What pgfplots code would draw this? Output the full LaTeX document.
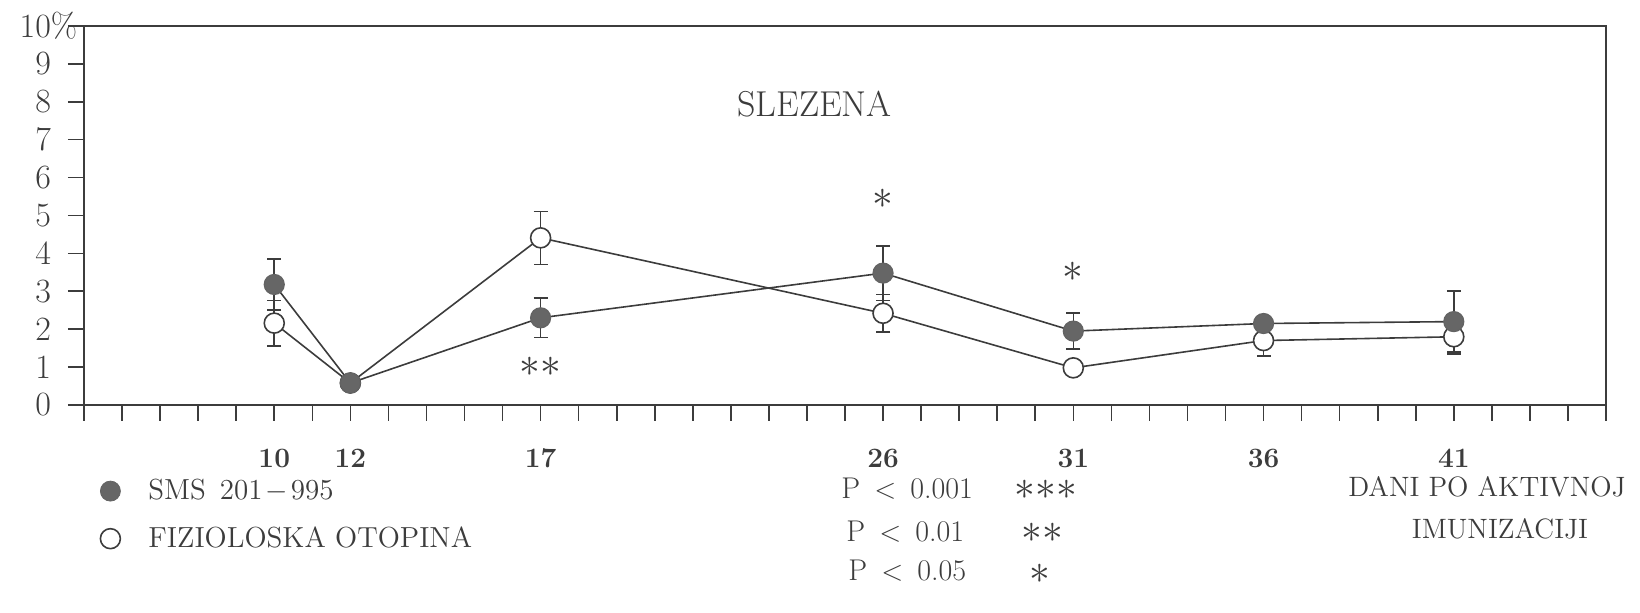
\documentclass[border=0pt]{standalone}
\usepackage{pgfplots}
\pgfplotsset{compat=1.18}
\usepackage{pgfplotstable}
\usepackage{fontspec}
\definecolor{ink}{HTML}{3C3C3C}
\definecolor{dotfill}{HTML}{666666}

\pgfplotstableread{
x y e
10 3.18 0.67
12 0.58 0
17 2.30 0.52
26 3.48 0.72
31 1.95 0.47
36 2.15 0.15
41 2.20 0.80
}\sms

\pgfplotstableread{
x y e
10 2.16 0.60
12 0.58 0
17 4.41 0.70
26 2.42 0.50
31 0.98 0.10
36 1.70 0.40
41 1.80 0.46
}\fiz

\newcommand{\st}{{\ast}}
\begin{document}
\begin{tikzpicture}
\useasboundingbox (-42pt,-104pt) rectangle (778pt,202.5pt);
\begin{axis}[
  at={(0pt,0pt)}, anchor=south west,
  scale only axis, width=761pt, height=189.5pt,
  xmin=5, xmax=45, ymin=0, ymax=10,
  axis line style={ink, line width=0.8pt},
  xtick={5,...,45}, xticklabels={},
  extra x ticks={10,12,17,26,31,36,41},
  extra x tick labels={10,12,17,26,31,36,41},
  extra x tick style={xticklabel style={font=\fontsize{14}{16}\selectfont\bfseries, text=ink, anchor=center, inner sep=0pt, yshift=-18.5pt}},
  ytick={0,...,10},
  yticklabels={0,1,2,3,4,5,6,7,8,9,10\rlap{\%}},
  yticklabel style={font=\fontsize{17}{19}\selectfont, text=ink, anchor=east, xshift=-5pt},
  tick align=outside, major tick length=8pt,
  xtick pos=bottom, ytick pos=left,
  tick style={ink, line width=0.8pt},
  clip=false,
  legend style={at={(axis description cs:0,0)}, anchor=north west, draw=none, fill=none,
    font=\fontsize{14.5}{16}\selectfont, xshift=5pt, yshift=-34pt, row sep=10pt,
    nodes={inner sep=1pt},
    text=ink, /tikz/every odd column/.append style={column sep=13pt}},
  legend cell align=left,
]
\addplot[forget plot, ink, line width=0.8pt, mark=*, mark size=5pt,
  mark options={fill=white, draw=ink, line width=0.8pt},
  error bars/.cd, y dir=both, y explicit,
  error bar style={ink, line width=0.8pt},
  error mark options={rotate=90, ink, mark size=3.5pt, line width=0.8pt},
  ] table[x=x, y=y, y error=e] {\fiz};
\addplot[forget plot, ink, line width=0.8pt, mark=*, mark size=5pt,
  mark options={fill=dotfill, draw=ink!80, line width=0.6pt},
  error bars/.cd, y dir=both, y explicit,
  error bar style={ink, line width=0.8pt},
  error mark options={rotate=90, ink, mark size=3.5pt, line width=0.8pt},
  ] table[x=x, y=y, y error=e] {\sms};
\addlegendimage{only marks, mark=*, mark size=5pt, mark options={fill=dotfill, draw=ink!80}}
\addlegendentry{SMS\hspace{7pt}201\hspace{1.5pt}$-$\hspace{1.5pt}995}
\addlegendimage{only marks, mark=o, mark size=5pt, mark options={draw=ink, line width=0.8pt}}
\addlegendentry{FIZIOLOSKA OTOPINA}

\node[font=\fontsize{18}{20}\selectfont, text=ink] at (axis cs:24.2,7.94) {SLEZENA};
\node[font=\fontsize{22}{22}\selectfont, text=ink] at (axis cs:17,1.0) {$\st\st$};
\node[font=\fontsize{22}{22}\selectfont, text=ink] at (axis cs:26,5.43) {$\st$};
\node[font=\fontsize{22}{22}\selectfont, text=ink] at (axis cs:31,3.5) {$\st$};
\end{axis}

\begin{scope}[every node/.style={text=ink, font=\fontsize{15}{17}\selectfont, inner sep=0pt}]
\node[anchor=west] at (378.5pt,-42pt) {P\, $<$\, 0.001};
\node[anchor=west] at (381pt,-63.5pt) {P\, $<$\, 0.01};
\node[anchor=west] at (382pt,-83pt) {P\, $<$\, 0.05};
\node[font=\fontsize{22}{22}\selectfont] at (481pt,-47.5pt) {\smash{$\st\st\st$}};
\node[font=\fontsize{22}{22}\selectfont] at (479pt,-69pt) {\smash{$\st\st$}};
\node[font=\fontsize{22}{22}\selectfont] at (478pt,-89.5pt) {\smash{$\st$}};
\node[font=\fontsize{14}{16}\selectfont] at (701.5pt,-41pt) {DANI PO AKTIVNOJ};
\node[font=\fontsize{14}{16}\selectfont] at (708pt,-62pt) {IMUNIZACIJI};
\end{scope}
\end{tikzpicture}
\end{document}
